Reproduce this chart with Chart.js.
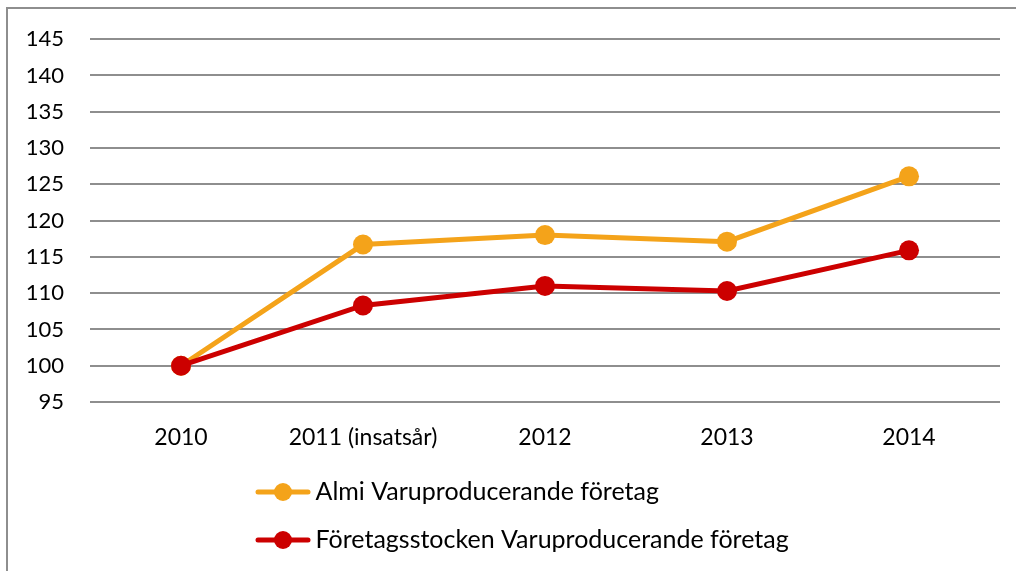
<!DOCTYPE html>
<html>
<head>
<meta charset="utf-8">
<script src="https://cdn.jsdelivr.net/npm/chart.js@4/dist/chart.umd.min.js"></script>
<style>
  html, body { margin: 0; padding: 0; background: #fff; }
  /* ram: bara topp- och vänsterkant syns i originalet */
  #frame {
    position: absolute; left: 6px; top: 7px; width: 1010px; height: 564px;
    border-top: 2px solid #8e8e8e; border-left: 2px solid #8e8e8e;
  }
  #wrap { position: absolute; left: 0; top: 0; width: 1016px; height: 571px; }
</style>
</head>
<body>
<div id="frame"></div>
<div id="wrap"><canvas id="indexChart"></canvas></div>
<script>
// år (kategorier)
const years = ["2010", "2011 (insatsår)", "2012", "2013", "2014"];

// index, 2010 = 100
const almiValues  = [100, 116.7, 118.0, 117.1, 126.1];
const stockValues = [100, 108.3, 111.0, 110.3, 115.9];

const seriesNames = ["Almi Varuproducerande företag", "Företagsstocken Varuproducerande företag"];

const ORANGE = "#F4A31A";
const RED = "#CC0000";
const FONT = "Lato, 'Open Sans', sans-serif";
const LEGEND_X = 263; // vänsterkant för legendrutan

// legend-symbol: linje + punkt
function legendIcon(color) {
  const c = document.createElement("canvas");
  c.width = 56; c.height = 20;
  const g = c.getContext("2d");
  g.strokeStyle = color;
  g.lineWidth = 5;
  g.lineCap = "round";
  g.beginPath(); g.moveTo(3, 10); g.lineTo(53, 10); g.stroke();
  g.fillStyle = color;
  g.beginPath(); g.arc(28, 10, 9, 0, Math.PI * 2); g.fill();
  return c;
}
const icons = [legendIcon(ORANGE), legendIcon(RED)];

// båda legendraderna ska börja på samma x
const legendRows = {
  id: "legendRows",
  afterUpdate(chart) {
    const lg = chart.legend;
    if (!lg || !lg.lineWidths) return;
    const pad = lg.options.labels.padding;
    const w = lg.left + pad + lg.right - 2 * LEGEND_X;
    lg.lineWidths = lg.lineWidths.map(() => w);
  }
};

new Chart(document.getElementById("indexChart"), {
  type: "line",
  data: {
    labels: years,
    datasets: [
      {
        label: seriesNames[0],
        data: almiValues,
        borderColor: ORANGE,
        backgroundColor: ORANGE,
        order: 1
      },
      {
        label: seriesNames[1],
        data: stockValues,
        borderColor: RED,
        backgroundColor: RED,
        order: 0
      }
    ]
  },
  options: {
    responsive: true,
    maintainAspectRatio: false,
    animation: false,
    datasets: {
      line: {
        borderWidth: 5,
        tension: 0,
        pointRadius: 10,
        pointHoverRadius: 10,
        pointBorderWidth: 0
      }
    },
    layout: { padding: { top: 38, right: 16, bottom: 8.5, left: 0 } },
    scales: {
      x: {
        offset: true,
        grid: { display: false, drawTicks: false },
        border: { display: false },
        ticks: { color: "#000", padding: 22, font: { family: FONT, size: 23 } },
        afterFit(scale) { scale.height = 54.5; }
      },
      y: {
        min: 95,
        max: 145,
        grid: { color: "#8e8e8e", lineWidth: 2, drawTicks: false },
        border: { display: false },
        ticks: { stepSize: 5, color: "#000", padding: 26, font: { family: FONT, size: 22 } },
        afterFit(scale) { scale.width = 90; }
      }
    },
    plugins: {
      tooltip: { enabled: false },
      legend: {
        position: "bottom",
        fullSize: false,
        labels: {
          usePointStyle: true,
          pointStyleWidth: 40,
          padding: 23,
          color: "#000",
          font: { family: FONT, size: 25 },
          sort: (a, b) => a.datasetIndex - b.datasetIndex,
          generateLabels(chart) {
            const items = Chart.defaults.plugins.legend.labels.generateLabels(chart);
            items.forEach(it => { it.pointStyle = icons[it.datasetIndex]; });
            return items;
          }
        }
      }
    }
  },
  plugins: [legendRows]
});
</script>
</body>
</html>
